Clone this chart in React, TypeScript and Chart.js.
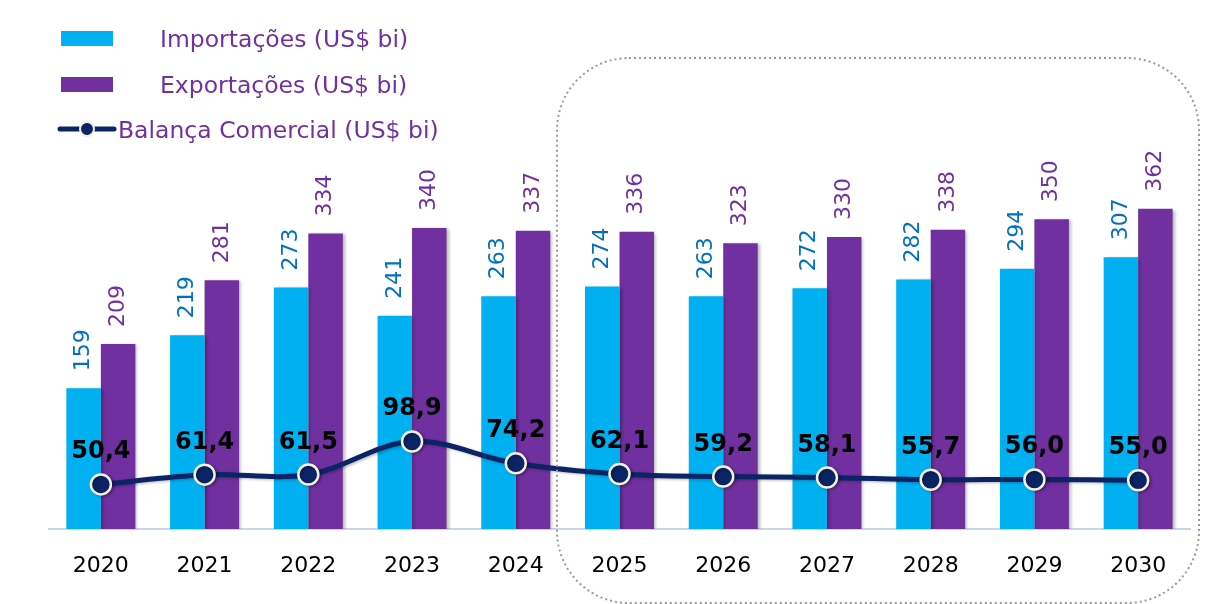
import React, { useEffect, useRef } from "react";
import { Chart, registerables } from "chart.js";

Chart.register(...registerables);

const years = ["2020", "2021", "2022", "2023", "2024", "2025", "2026", "2027", "2028", "2029", "2030"];
const importacoes = [159, 219, 273, 241, 263, 274, 263, 272, 282, 294, 307];
const exportacoes = [209, 281, 334, 340, 337, 336, 323, 330, 338, 350, 362];
const balanca = [50.4, 61.4, 61.5, 98.9, 74.2, 62.1, 59.2, 58.1, 55.7, 56.0, 55.0];

const labelImport = "Importações (US$ bi)";
const labelExport = "Exportações (US$ bi)";
const labelBalanca = "Balança Comercial (US$ bi)";

const C_IMP = "#00B0F0";
const C_EXP = "#7030A0";
const C_LINE = "#0A2465";
const FONT = "'DejaVu Sans', Verdana, sans-serif";

const fmt = (v: number) => v.toFixed(1).replace(".", ",");

export default function App() {
  const ref = useRef<HTMLCanvasElement | null>(null);

  useEffect(() => {
    if (!ref.current) return;

    const shadowPlugin = {
      id: "shadows",
      beforeDatasetDraw(chart: any) {
        const ctx = chart.ctx;
        ctx.save();
        ctx.shadowColor = "rgba(0,0,0,0.28)";
        ctx.shadowBlur = 3;
        ctx.shadowOffsetX = 2;
        ctx.shadowOffsetY = 1;
      },
      afterDatasetDraw(chart: any) {
        chart.ctx.restore();
      },
    };

    const labelsPlugin = {
      id: "labelsAndDeco",
      afterDatasetsDraw(chart: any) {
        const ctx = chart.ctx;
        const barSets = [
          { idx: 1, color: "#0070C0", data: importacoes },
          { idx: 2, color: C_EXP, data: exportacoes },
        ];
        barSets.forEach((s) => {
          const meta = chart.getDatasetMeta(s.idx);
          meta.data.forEach((el: any, i: number) => {
            ctx.save();
            ctx.translate(el.x, el.y - 17);
            ctx.rotate(-Math.PI / 2);
            ctx.font = `22px ${FONT}`;
            ctx.fillStyle = s.color;
            ctx.textAlign = "left";
            ctx.textBaseline = "middle";
            ctx.fillText(String(s.data[i]), 0, 0);
            ctx.restore();
          });
        });
        const lm = chart.getDatasetMeta(0);
        lm.data.forEach((el: any, i: number) => {
          ctx.save();
          ctx.font = `bold 24px ${FONT}`;
          ctx.fillStyle = "#000";
          ctx.textAlign = "center";
          ctx.textBaseline = "alphabetic";
          ctx.fillText(fmt(balanca[i]), el.x, el.y - 26);
          ctx.restore();
        });
      },
      afterDraw(chart: any) {
        const ctx = chart.ctx;
        ctx.save();
        ctx.strokeStyle = "#9a9a9a";
        ctx.lineWidth = 2;
        ctx.setLineDash([2, 3]);
        ctx.beginPath();
        const x0 = 557, y0 = 58, x1 = 1199, y1 = 603, r = 72;
        ctx.moveTo(x0 + r, y0);
        ctx.lineTo(x1 - r, y0);
        ctx.arcTo(x1, y0, x1, y0 + r, r);
        ctx.lineTo(x1, y1 - r);
        ctx.arcTo(x1, y1, x1 - r, y1, r);
        ctx.lineTo(x0 + r, y1);
        ctx.arcTo(x0, y1, x0, y1 - r, r);
        ctx.lineTo(x0, y0 + r);
        ctx.arcTo(x0, y0, x0 + r, y0, r);
        ctx.closePath();
        ctx.stroke();
        ctx.restore();

        ctx.save();
        ctx.fillStyle = C_IMP;
        ctx.fillRect(61, 31, 52, 15);
        ctx.fillStyle = C_EXP;
        ctx.fillRect(61, 77, 52, 15);
        ctx.strokeStyle = C_LINE;
        ctx.lineWidth = 5;
        ctx.lineCap = "round";
        ctx.beginPath();
        ctx.moveTo(60, 129);
        ctx.lineTo(114, 129);
        ctx.stroke();
        ctx.beginPath();
        ctx.arc(87, 129, 7, 0, Math.PI * 2);
        ctx.fillStyle = C_LINE;
        ctx.fill();
        ctx.lineWidth = 2;
        ctx.strokeStyle = "#f2f0e0";
        ctx.stroke();
        ctx.font = `23.5px ${FONT}`;
        ctx.fillStyle = C_EXP;
        ctx.textAlign = "left";
        ctx.textBaseline = "alphabetic";
        ctx.fillText(labelImport, 160, 47);
        ctx.fillText(labelExport, 160, 93);
        ctx.fillText(labelBalanca, 118, 138);
        ctx.restore();
      },
    };

    const chart = new Chart(ref.current, {
      type: "bar",
      data: {
        labels: years,
        datasets: [
          {
            type: "line",
            label: labelBalanca,
            data: balanca,
            borderColor: C_LINE,
            borderWidth: 5,
            tension: 0.35,
            pointRadius: 10,
            pointBackgroundColor: C_LINE,
            pointBorderColor: "#f2f0e0",
            pointBorderWidth: 2.5,
            order: 0,
          } as any,
          {
            type: "bar",
            label: labelImport,
            data: importacoes,
            backgroundColor: C_IMP,
            categoryPercentage: 0.665,
            barPercentage: 1,
            order: 1,
          },
          {
            type: "bar",
            label: labelExport,
            data: exportacoes,
            backgroundColor: C_EXP,
            categoryPercentage: 0.665,
            barPercentage: 1,
            order: 1,
          },
        ],
      },
      options: {
        responsive: false,
        animation: false,
        devicePixelRatio: 1,
        layout: { padding: { left: 49, right: 18, top: 175, bottom: 0.6 } },
        plugins: {
          legend: { display: false },
          tooltip: { enabled: false },
        },
        scales: {
          x: {
            grid: { display: false, drawTicks: false, tickLength: 0 },
            border: { display: true, color: "#c9d5ea", width: 2 },
            ticks: {
              color: "#000",
              font: { family: FONT, size: 22 },
              padding: 24,
            },
          },
          y: {
            display: false,
            min: 0,
            max: 400,
          },
        },
      },
      plugins: [shadowPlugin, labelsPlugin],
    });

    return () => chart.destroy();
  }, []);

  return (
    <div style={{ position: "absolute", left: 0, top: 0, width: 1208, height: 604, background: "#fff" }}>
      <canvas ref={ref} width={1208} height={604} />
    </div>
  );
}
